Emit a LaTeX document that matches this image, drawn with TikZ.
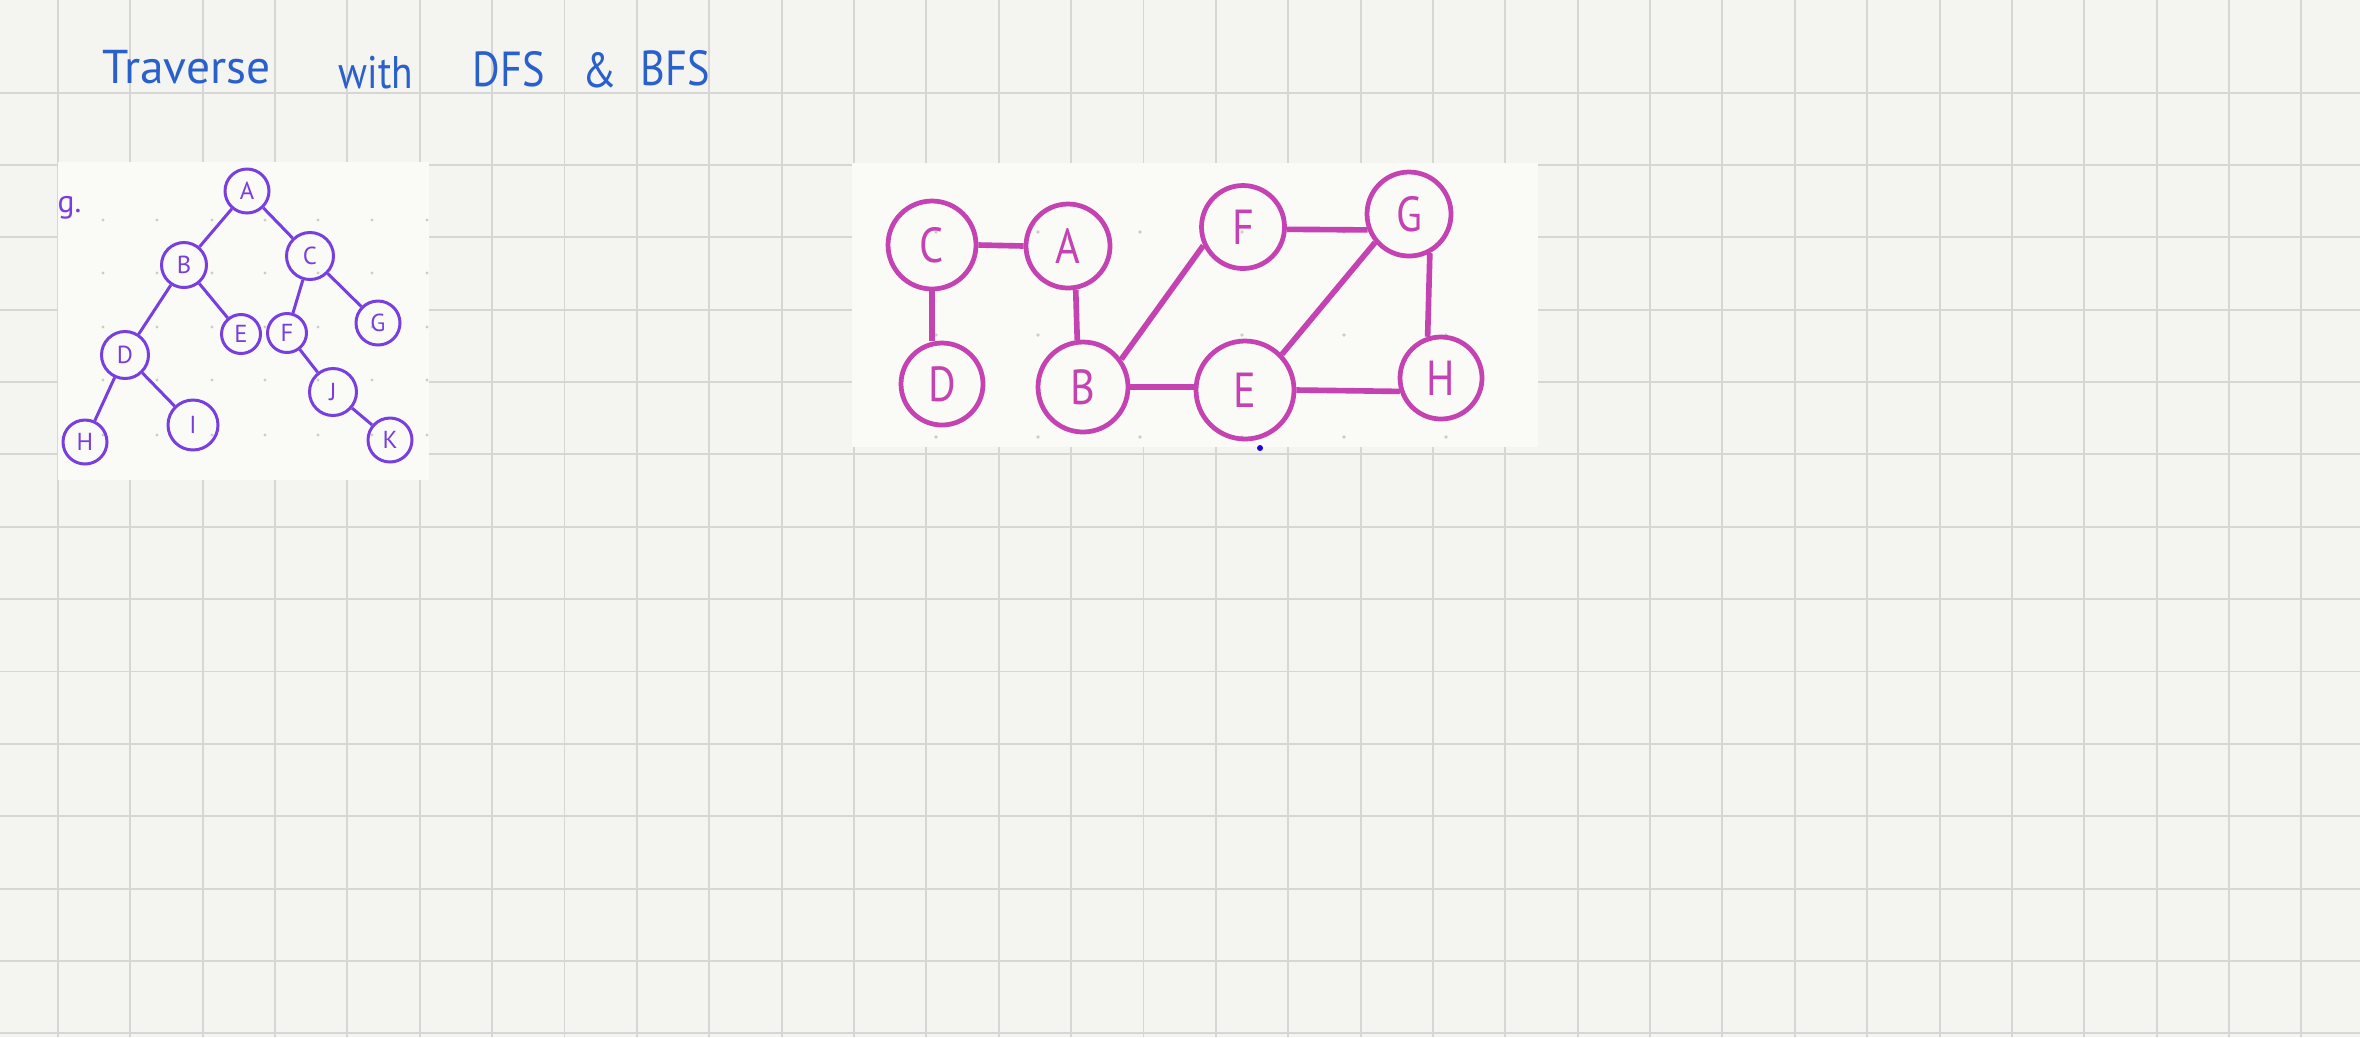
\documentclass[tikz,border=0pt]{standalone}
\usepackage{fontspec}
\setmainfont{PT Sans}
\newfontfamily\handschrift{PT Sans}[FakeStretch=0.86]

\definecolor{papier}{RGB}{244,244,241}
\definecolor{gitter}{RGB}{214,214,212}
\definecolor{karte}{RGB}{250,250,246}
\definecolor{punkt}{RGB}{205,205,200}
\definecolor{tinte}{RGB}{42,96,204}
\definecolor{baum}{RGB}{120,62,224}
\definecolor{netz}{RGB}{196,66,178}

\tikzset{
  titel/.style={anchor=base west, inner sep=0pt, text=tinte, font=\handschrift\fontsize{14}{14}\selectfont},
  bknoten/.style={circle, draw=baum, line width=0.85pt, inner sep=0pt, minimum size=4.4mm,
    text=baum, font=\fontsize{7}{7}\selectfont},
  gknoten/.style={circle, draw=netz, line width=1.35pt, inner sep=0pt, minimum size=8.4mm,
    text=netz, font=\handschrift\fontsize{14}{14}\selectfont},
  bkante/.style={draw=baum, line width=0.85pt},
  gkante/.style={draw=netz, line width=1.6pt}
}

\begin{document}
\begin{tikzpicture}[x=0.1mm, y=-0.1mm]

        % Papier und Karo
        \fill[papier] (0,0) rectangle (2360,1037);
        \useasboundingbox (0,0) rectangle (2360,1037);
        \foreach \i in {0,...,31}
        \draw[gitter, line width=0.55pt] (57.9+72.37*\i,0) -- ++(0,1037);
        \foreach \j in {0,...,13}
        \draw[gitter, line width=0.55pt] (0,92.6+72.36*\j) -- ++(2360,0);

        % Ueberschrift
        \node[titel, font=\fontsize{13.5}{13.5}\selectfont] (w1) at (102,83) {Traverse};
        \node[titel, font=\handschrift\fontsize{13}{13}\selectfont] (w2) at (338,88) {with};
        \node[titel] (w3) at (472,86) {DFS};
        \node[titel] (w4) at (582,87) {\&};
        \node[titel] (w5) at (640,85) {BFS};

        % Karten
        \fill[karte] (58,162) rectangle (429,480);
        \fill[karte] (852,163) rectangle (1538,447);
        \foreach \x in {103,157,212,265,318,372,427}
        \foreach \y in {220,273,327,380,435}
        \fill[punkt] (\x,\y) circle (1.6);
        \foreach \x in {936,1038,1140,1242,1344,1446}
        \foreach \y in {232,335,437}
        \fill[punkt] (\x,\y) circle (1.8);
        \node[anchor=base west, inner sep=0pt, text=baum, font=\fontsize{9}{9}\selectfont] (rest) at (57,212) {g.};

        % Binaerbaum
        \node[bknoten] (A) at (247,191) {A};
        \node[bknoten, minimum size=4.5mm] (B) at (184,265) {B};
        \node[bknoten, minimum size=4.7mm] (C) at (310,256) {C};
        \node[bknoten, minimum size=4.7mm] (D) at (125,355) {D};
        \node[bknoten, minimum size=3.9mm] (E) at (241,334) {E};
        \node[bknoten, minimum size=3.9mm] (F) at (287,333) {F};
        \node[bknoten] (G) at (378,323) {G};
        \node[bknoten] (H) at (85,442) {H};
        \node[bknoten, minimum size=5mm] (I) at (193,425) {I};
        \node[bknoten, minimum size=4.7mm] (J) at (333,392) {J};
        \node[bknoten] (K) at (390,440) {K};

        \foreach \a/\b in {A/B,A/C,B/D,B/E,C/F,C/G,D/H,D/I,F/J,J/K}
        \draw[bkante] (\a) -- (\b);

        % Ungerichteter Graph
        \node[gknoten, minimum size=8.8mm] (gC) at (932,245) {C};
        \node[gknoten] (gA) at (1068,246) {A};
        \node[gknoten, minimum size=8.3mm] (gF) at (1243,227) {F};
        \node[gknoten] (gG) at (1409,214) {G};
        \node[gknoten, minimum size=8.2mm] (gD) at (942,384) {D};
        \node[gknoten, minimum size=9mm] (gB) at (1083,387) {B};
        \node[gknoten, minimum size=9.8mm] (gE) at (1245,390) {E};
        \node[gknoten, minimum size=8.2mm] (gH) at (1441,378) {H};

        % Kanten (freihand, daher feste Winkel)
        \draw[gkante] (gC.east) -- (gA.west);
        \draw[gkante] (gC.south) -- (gC.south |- gD.north);
        \draw[gkante] (gA.-80) -- (gB.97);
        \draw[gkante] (gB.36) -- (gF.205);
        \draw[gkante] (gB.east) -- (gB.east -| gE.west);
        \draw[gkante] (gF.-3) -- (gG.201);
        \draw[gkante] (gG.220) -- (gE.44);
        \draw[gkante] (gG.-62) -- (gH.108);
        \draw[gkante] (gE.east) -- (gH.198);

        % Stiftpunkt
        \fill[blue!70!violet] (1260,448) circle (3);

    \end{tikzpicture}
\end{document}
